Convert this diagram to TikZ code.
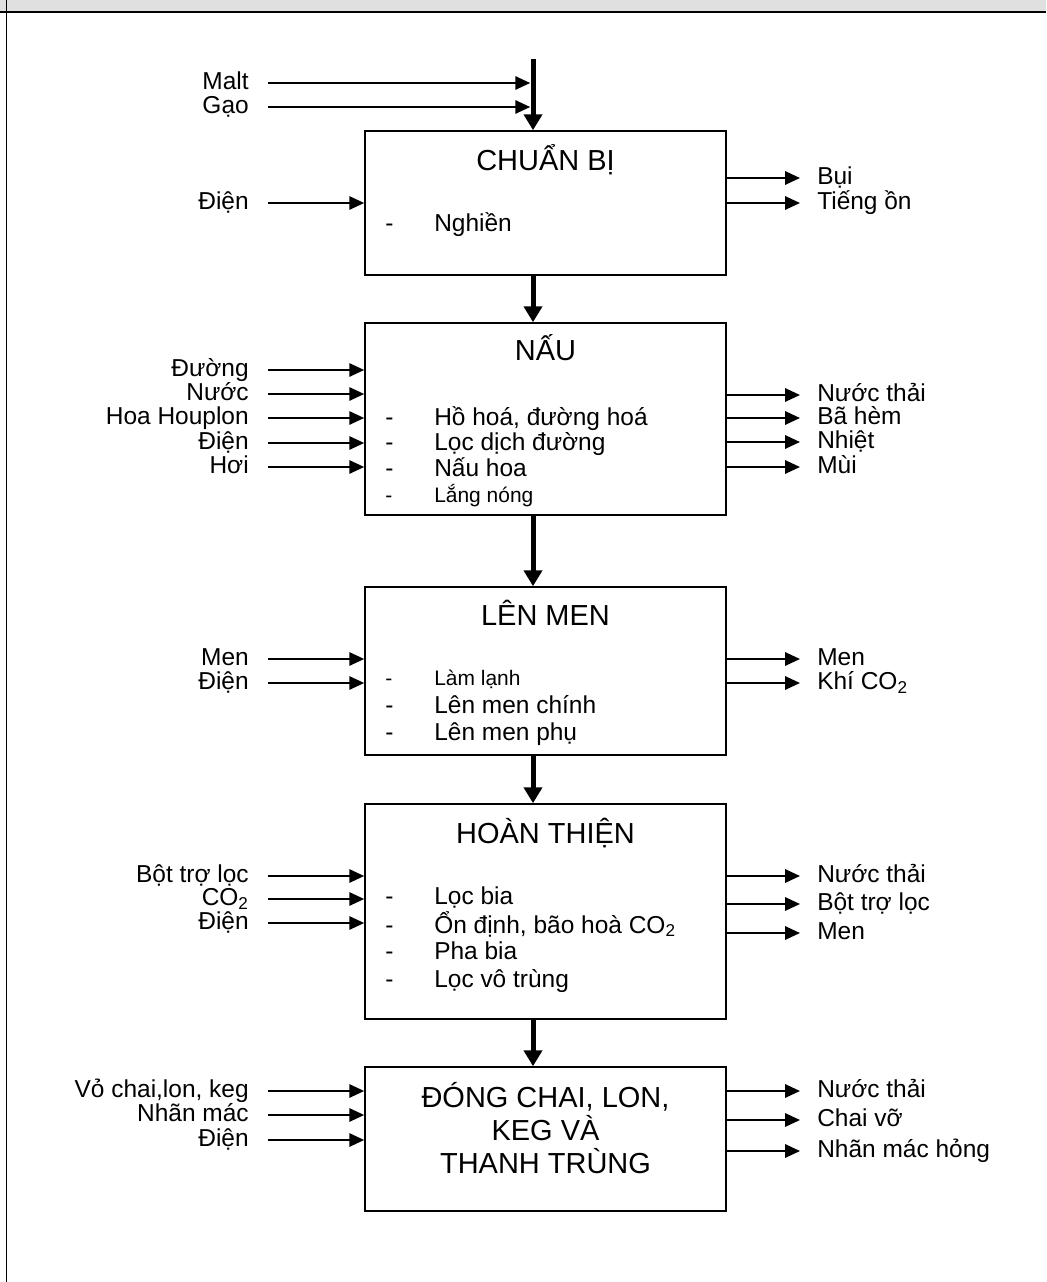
\documentclass[tikz,border=0pt]{standalone}
\usepackage{fontspec}
\setmainfont{Liberation Sans}
\usetikzlibrary{arrows.meta}
\definecolor{hdrgray}{HTML}{E0E0E0}

\begin{document}
\begin{tikzpicture}[x=0.025cm, y=-0.025cm,
    box/.style={draw, line width=1.1pt, minimum width=9.025cm, inner sep=0pt},
    ttl/.style={anchor=base, inner sep=0pt, font=\fontsize{20.6}{24}\selectfont},
    itm/.style={anchor=base west, inner sep=0pt, font=\fontsize{17.4}{20}\selectfont},
    sitm/.style={anchor=base west, inner sep=0pt, font=\fontsize{14.9}{18}\selectfont},
    inl/.style={anchor=east, inner sep=0pt, text height=13pt, text depth=3.5pt, font=\fontsize{17.4}{20}\selectfont},
    outl/.style={inl, anchor=west},
    inarr/.style={line width=1.42pt, -{Triangle[length=10.6pt, width=9.5pt]}, shorten <=0.475cm},
    outarr/.style={line width=1.42pt, -{Triangle[length=10.6pt, width=9.5pt]}, shorten >=0.425cm},
    mainarr/.style={line width=3.56pt, -{Triangle[length=11.3pt, width=12.8pt]}}]
                \useasboundingbox (0,0) rectangle (1046,1282);
                % Frame
                \fill[hdrgray] (0,0) rectangle (1046,12);
                \draw[line width=1.3pt] (0,12) -- (1046,12);
                \draw[line width=1.3pt] (6.5,0) -- (6.5,1282);

                % Boxes
                \node[box, minimum height=3.6cm]   at (545.5, 203)   (cb)  {};
                \node[box, minimum height=4.8cm]   at (545.5, 419)   (nau) {};
                \node[box, minimum height=4.2cm]   at (545.5, 671)   (lm)  {};
                \node[box, minimum height=5.375cm] at (545.5, 911.5) (ht)  {};
                \node[box, minimum height=3.6cm]   at (545.5, 1139)  (dc)  {};

                % Titles
                \node[ttl] at (545.5, 170)  (cbt)  {CHUẨN BỊ};
                \node[ttl] at (545.5, 360)  (naut) {NẤU};
                \node[ttl] at (545.5, 625)  (lmt)  {LÊN MEN};
                \node[ttl] at (545.5, 843)  (htt)  {HOÀN THIỆN};
                \node[ttl] at (545.5, 1107) (dct1) {ĐÓNG CHAI, LON,};
                \node[ttl] at (545.5, 1140) (dct2) {KEG VÀ};
                \node[ttl] at (545.5, 1173) (dct3) {THANH TRÙNG};

                % Steps
                \node[itm]  at (385, 231) (cb1)  {\makebox[1.225cm][l]{-}Nghiền};
                \node[itm]  at (385, 425) (nau1) {\makebox[1.225cm][l]{-}Hồ hoá, đường hoá};
                \node[itm]  at (385, 450) (nau2) {\makebox[1.225cm][l]{-}Lọc dịch đường};
                \node[itm]  at (385, 476) (nau3) {\makebox[1.225cm][l]{-}Nấu hoa};
                \node[sitm] at (385, 502) (nau4) {\makebox[1.225cm][l]{-}Lắng nóng};
                \node[sitm] at (385, 685) (lm1)  {\makebox[1.225cm][l]{-}Làm lạnh};
                \node[itm]  at (385, 713) (lm2)  {\makebox[1.225cm][l]{-}Lên men chính};
                \node[itm]  at (385, 740) (lm3)  {\makebox[1.225cm][l]{-}Lên men phụ};
                \node[itm]  at (385, 904) (ht1)  {\makebox[1.225cm][l]{-}Lọc bia};
                \node[itm]  at (385, 933) (ht2)  {\makebox[1.225cm][l]{-}Ổn định, bão hoà CO\textsubscript{2}};
                \node[itm]  at (385, 959) (ht3)  {\makebox[1.225cm][l]{-}Pha bia};
                \node[itm]  at (385, 987) (ht4)  {\makebox[1.225cm][l]{-}Lọc vô trùng};

                % Main flow
                \coordinate (sp) at (533, 0);
                \coordinate (st) at (533, 59);
                \draw[mainarr] (st) -- (cb.north -| sp);
                \draw[mainarr] (cb.south -| sp) -- (nau.north -| sp);
                \draw[mainarr] (nau.south -| sp) -- (lm.north -| sp);
                \draw[mainarr] (lm.south -| sp) -- (ht.north -| sp);
                \draw[mainarr] (ht.south -| sp) -- (dc.north -| sp);

                % Inputs
                \node[inl] at (249, 83)   (malt)  {Malt};
                \node[inl] at (249, 107)  (gao)   {Gạo};
                \node[inl] at (249, 203)  (dien1) {Điện};
                \node[inl] at (249, 370)  (duong) {Đường};
                \node[inl] at (249, 394)  (nuoc)  {Nước};
                \node[inl] at (249, 418)  (hoa)   {Hoa Houplon};
                \node[inl] at (249, 443)  (dien2) {Điện};
                \node[inl] at (249, 467)  (hoi)   {Hơi};
                \node[inl] at (249, 659)  (men)   {Men};
                \node[inl] at (249, 683)  (dien3) {Điện};
                \node[inl] at (249, 876)  (bot)   {Bột trợ lọc};
                \node[inl] at (249, 899)  (co)    {CO\textsubscript{2}};
                \node[inl] at (249, 923)  (dien4) {Điện};
                \node[inl] at (249, 1091) (vo)    {Vỏ chai,lon, keg};
                \node[inl] at (249, 1115) (nhan)  {Nhãn mác};
                \node[inl] at (249, 1140) (dien5) {Điện};

                \draw[inarr, shorten >=2pt] (malt.east) -- (sp |- malt.east);
                \draw[inarr, shorten >=2pt] (gao.east) -- (sp |- gao.east);
                \draw[inarr] (dien1.east) -- (cb.west |- dien1.east);
                \draw[inarr] (duong.east) -- (nau.west |- duong.east);
                \draw[inarr] (nuoc.east) -- (nau.west |- nuoc.east);
                \draw[inarr] (hoa.east) -- (nau.west |- hoa.east);
                \draw[inarr] (dien2.east) -- (nau.west |- dien2.east);
                \draw[inarr] (hoi.east) -- (nau.west |- hoi.east);
                \draw[inarr] (men.east) -- (lm.west |- men.east);
                \draw[inarr] (dien3.east) -- (lm.west |- dien3.east);
                \draw[inarr] (bot.east) -- (ht.west |- bot.east);
                \draw[inarr] (co.east) -- (ht.west |- co.east);
                \draw[inarr] (dien4.east) -- (ht.west |- dien4.east);
                \draw[inarr] (vo.east) -- (dc.west |- vo.east);
                \draw[inarr] (nhan.east) -- (dc.west |- nhan.east);
                \draw[inarr] (dien5.east) -- (dc.west |- dien5.east);

                % Outputs
                \node[outl] at (817, 178)  (bui)    {Bụi};
                \node[outl] at (817, 203)  (on)     {Tiếng ồn};
                \node[outl] at (817, 395)  (thai1)  {Nước thải};
                \node[outl] at (817, 418)  (ham)    {Bã hèm};
                \node[outl] at (817, 442)  (nhiet)  {Nhiệt};
                \node[outl] at (817, 467)  (mui)    {Mùi};
                \node[outl] at (817, 659)  (meno)   {Men};
                \node[outl] at (817, 683)  (khi)    {Khí CO\textsubscript{2}};
                \node[outl] at (817, 876)  (thai2)  {Nước thải};
                \node[outl] at (817, 904)  (boto)   {Bột trợ lọc};
                \node[outl] at (817, 933)  (meno2)  {Men};
                \node[outl] at (817, 1091) (thai3)  {Nước thải};
                \node[outl] at (817, 1120) (vochai) {Chai vỡ};
                \node[outl] at (817, 1151) (hong)   {Nhãn mác hỏng};

                \draw[outarr] (cb.east |- bui.west) -- (bui.west);
                \draw[outarr] (cb.east |- on.west) -- (on.west);
                \draw[outarr] (nau.east |- thai1.west) -- (thai1.west);
                \draw[outarr] (nau.east |- ham.west) -- (ham.west);
                \draw[outarr] (nau.east |- nhiet.west) -- (nhiet.west);
                \draw[outarr] (nau.east |- mui.west) -- (mui.west);
                \draw[outarr] (lm.east |- meno.west) -- (meno.west);
                \draw[outarr] (lm.east |- khi.west) -- (khi.west);
                \draw[outarr] (ht.east |- thai2.west) -- (thai2.west);
                \draw[outarr] (ht.east |- boto.west) -- (boto.west);
                \draw[outarr] (ht.east |- meno2.west) -- (meno2.west);
                \draw[outarr] (dc.east |- thai3.west) -- (thai3.west);
                \draw[outarr] (dc.east |- vochai.west) -- (vochai.west);
                \draw[outarr] (dc.east |- hong.west) -- (hong.west);
            \end{tikzpicture}
\end{document}
